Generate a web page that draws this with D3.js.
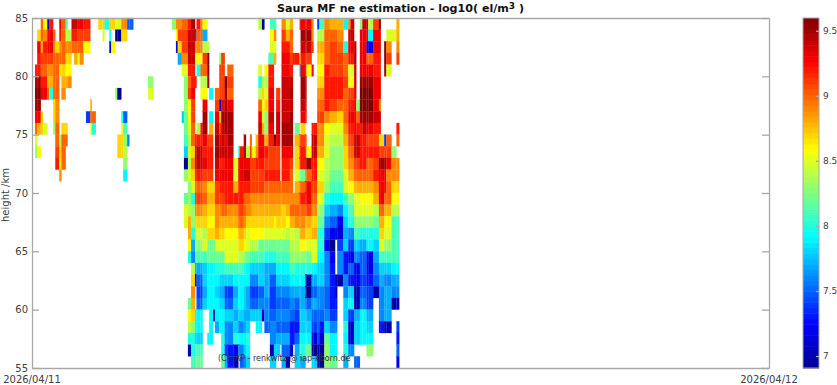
<!DOCTYPE html>
<html>
<head>
    <script src="https://d3js.org/d3.v7.min.js"></script>
    <style>
        body { margin: 0; background-color: white; }
        text { font-family: "DejaVu Sans", sans-serif; fill: #404040; }
        .axis path, .axis line { stroke: #a8a8a8; stroke-width: 1.3; fill: none; }
        .axis text { font-size: 10px; }
        .cbar text { font-size: 9px; }
        .cells { filter: blur(0.4px); }
    </style>
</head>
<body>
    <svg id="chart" width="837" height="385"></svg>
    <script>
        const _ = null
        const yTicks = [55, 60, 65, 70, 75, 80, 85]
        const cbarTicks = [7, 7.5, 8, 8.5, 9, 9.5]
        const xLabels = ['2026/04/11', '2026/04/12']
        const rowTops = d3.range(85, 55, -1)

        // time edges in hours, values are log10(ne) * 10, rows run from 85 km down
        const leftEdges = [0.10,0.17,0.29,0.36,0.50,0.56,0.69,0.76,0.89,0.96,1.10,1.16,1.29,1.37,1.49,1.56,1.68,1.76,1.90,1.95,2.08,2.16,2.30,2.36,2.52,2.58,2.71,2.78,2.91,2.97,3.10,3.17,3.30,3.78,3.95]
        const leftRows = [
            [_,_,90,86,72,92,_,_,93,90,81,_,94,94,93,93,92,92,_,_,_,87,87,80,87,87,85,85,89,89,75,75,_,_],
            [_,87,90,89,93,93,90,_,92,90,84,84,92,92,91,91,91,91,_,_,_,_,85,_,80,_,69,69,87,87],
            [_,93,88,92,93,93,89,87,89,90,89,89,90,90,90,90,86,86,_,_,_,_,_,_,71,86],
            [_,92,91,91,91,91,90,90,90,90,87,87,_,88,85,89],
            [92,92,90,90,89,89,90,90,87,87,86,86],
            [95,95,92,92,88,88,90,90,_,88,88,89,_,_,_,_,_,_,_,_,_,_,_,_,_,_,_,_,_,_,_,_,_,83],
            [96,96,93,93,90,80,90,90,_,89,_,_,_,_,_,_,_,_,_,_,_,_,_,_,_,_,83,69,_,_,_,_,_,85],
            [95,95,_,_,_,_,87,89,_,_,_,_,_,_,_,_,_,_,88],
            [93,93,87,_,_,_,87,89,_,_,_,_,_,_,_,_,_,74,90,90,_,_,_,_,_,_,_,_,80,75],
            [90,88,87,85,_,_,83,90,_,87,87,_,_,_,_,_,_,_,86,80,_,_,_,_,_,_,_,_,86,81],
            [85,_,_,_,_,_,_,90,83,90,90,_,_,_,_,_,_,_,_,_,_,_,_,_,_,_,_,87,87,83,76],
            [83,86,_,_,_,_,_,91,87,90,_,_,_,_,_,_,_,_,_,_,_,_,_,_,_,_,_,87,87,84],
            [_,_,_,_,_,_,_,92,86,90,_,_,_,_,_,_,_,_,_,_,_,_,_,_,_,_,_,_,_,83],
            [_,_,_,_,_,_,_,_,89,_,_,_,_,_,_,_,_,_,_,_,_,_,_,_,_,_,_,_,_,79]
        ]

        const midEdges = [4.56,4.69,4.75,4.88,4.95,5.08,5.18,5.31,5.36,5.49,5.56,5.71,5.77,5.90,5.96,6.10,6.16,6.28,6.36,6.56,6.72,6.77,6.90,6.97,7.10,7.16,7.29,7.37,7.49,7.57,7.70,7.75,7.88,7.95,8.08,8.13,8.27,8.40]
        const midRows = [
            [83,89,89,90,90,92,95,_,92,89,86,_,_,_,_,_,_,_,_,_,_,_,_,_,_,_,_,84,69,_,_,81,81,_,_,89,85],
            [_,86,91,91,91,94,94,74,90,90,77,_,_,_,_,_,_,_,_,_,_,_,_,_,_,_,_,_,_,_,_,86,89,_,_,91,88],
            [_,71,87,91,91,94,94,89,89,89,84,84,_,_,_,_,_,_,_,_,_,_,_,_,_,_,_,_,_,_,_,85,85,_,_,92,92],
            [_,_,77,89,89,94,94,86,86,86,91,96,_,_,_,83,91,_,_,_,_,_,_,_,_,_,_,_,_,_,81,81,88,_,_,93,93],
            [_,_,_,85,85,92,92,_,80,90,90,96,_,_,_,91,91,_,90,_,_,_,_,_,_,_,_,85,_,86,92,92,_,_,_,93,93],
            [_,_,_,_,83,90,92,92,_,84,84,95,_,_,_,91,91,96,91,_,_,_,_,_,_,_,_,80,84,84,92,92,_,_,_,94,94],
            [_,_,_,_,83,91,93,_,_,86,86,_,79,_,90,91,91,95,90,_,_,_,_,_,_,_,_,84,87,85,93,93,_,91,_,94,94],
            [_,_,_,_,83,86,91,_,_,_,93,_,_,_,91,71,93,95,93,_,_,_,_,_,_,_,_,90,86,87,93,93,_,92,_,94,94],
            [_,_,_,78,82,86,91,_,_,_,95,_,79,_,93,87,95,95,95,_,_,_,_,_,_,_,_,93,85,83,94,94,_,94,_,94,94],
            [_,_,_,_,82,85,90,_,84,92,95,_,88,_,94,91,94,95,95,_,_,_,_,_,_,_,_,94,88,83,93,93,_,94,_,95,95],
            [_,_,_,_,81,84,90,92,92,92,93,91,91,_,95,93,94,93,95,_,_,_,95,_,90,_,88,93,93,88,92,92,96,93,_,95,95],
            [_,_,_,_,78,85,87,94,94,94,92,92,92,_,95,94,94,94,94,_,80,92,95,84,91,86,89,93,93,92,91,91,91,91,_,93,93],
            [_,_,_,_,69,84,89,94,94,94,93,92,92,_,94,92,92,93,93,85,93,93,93,93,91,91,92,92,92,91,91,91,91,91,_,92,92],
            [_,_,_,_,83,85,87,92,92,92,91,91,91,_,93,93,93,93,93,85,93,93,94,94,91,91,91,91,91,92,92,92,92,92,_,92,92],
            [_,_,_,_,_,83,85,90,90,90,89,87,87,87,91,92,92,92,92,88,92,92,92,92,91,91,91,91,91,90,90,90,90,90,90,90,90],
            [_,_,_,_,82,83,80,91,91,91,90,88,88,88,91,91,91,92,92,92,92,92,90,90,89,89,89,89,89,89,89,89,89,89,89,89,89],
            [_,_,_,_,85,84,83,89,89,89,88,87,87,87,89,89,90,90,89,89,91,91,90,89,89,88,88,88,88,88,88,88,88,88,88,87,88],
            [_,_,_,_,85,88,83,87,87,87,87,86,86,86,89,88,88,88,88,88,90,90,89,87,87,87,87,87,87,87,87,87,86,87,87,87,86],
            [_,_,_,_,_,88,80,85,85,85,84,87,87,87,88,87,87,86,86,86,88,88,87,85,86,86,86,86,86,85,85,85,85,85,85,85,84],
            [_,_,_,_,_,86,77,83,83,83,85,82,82,82,85,85,85,85,85,85,87,87,86,85,84,84,84,82,82,82,82,82,82,82,82,82,82],
            [_,_,_,_,_,80,76,81,81,81,81,82,82,82,82,82,82,85,85,85,84,84,83,82,81,81,81,81,81,80,80,80,80,81,81,81,81],
            [_,_,_,_,_,_,84,77,77,77,78,79,79,79,80,80,80,81,81,81,81,81,80,79,78,78,78,78,78,77,77,77,77,79,79,79,79],
            [_,_,_,_,_,_,87,69,75,75,78,79,79,79,79,78,78,78,78,79,79,79,79,79,76,76,76,78,78,77,77,75,75,78,78,78,78],
            [_,_,_,_,_,_,89,_,74,74,77,79,79,79,78,77,77,74,74,77,79,79,78,77,74,74,74,75,75,77,77,74,74,76,76,76,76],
            [_,_,_,_,_,82,88,_,75,75,78,79,79,79,79,78,78,75,75,78,79,79,78,77,75,75,75,76,76,76,76,74,74,75,75,75,75],
            [_,_,_,_,_,86,87,79,79,79,_,_,79,70,79,79,79,78,78,77,78,78,77,77,78,78,78,78,71,76,76,75,75,76,76,76,76],
            [_,_,_,_,_,84,83,79,79,79,_,_,79,_,77,79,79,76,76,78,76,76,77,78,_,_,79,79,_,75,75,76,76,75,75,75,75],
            [_,_,_,_,_,80,80,78,78,78,_,79,79,_,_,_,80,76,76,80,79,79,79,80,_,_,_,_,_,_,_,76,76,77,77,77,77],
            [_,_,_,_,_,70,80,81,81,81,_,_,_,_,_,_,80,74,73,72,76,76,78,79,_,_,_,_,_,_,_,70,78,78,_,75,75],
            [_,_,_,_,_,_,81,82,82,82,_,_,_,_,_,_,82,77,73,70,_,75,76,78,_,_,_,_,_,_,_,78,78,_,_,77,70]
        ]

        const rightEdges = [8.40,8.50,8.56,8.72,8.75,8.91,8.94,9.11,9.17,9.29,9.36,9.52,9.70,9.87,9.94,10.14,10.30,10.38,10.49,10.56,10.68,10.76,10.90,10.95,11.11,11.30,11.36,11.47,11.54,11.71,11.87,11.96]
        const rightRows = [
            [88,_,_,93,93,93,93,89,_,74,81,89,88,88,88,79,89,94,_,_,83,94,94,84,91,96,_,_,_,_,88],
            [90,_,_,_,95,95,95,89,_,84,84,90,90,90,89,_,94,94,_,_,93,93,93,79,93,93,_,_,85,85,88],
            [90,_,_,_,94,94,94,91,_,88,88,90,91,91,90,80,93,93,94,_,93,93,72,72,93,93,_,96,89,_,89],
            [91,92,92,85,92,92,91,_,_,87,87,90,91,91,91,90,92,92,95,_,93,93,90,90,92,92,_,96,91,_,91],
            [92,_,_,76,93,93,86,93,_,86,86,92,91,91,91,90,85,85,94,_,93,93,93,93,92,92,_,95,85],
            [94,_,_,_,95,95,_,_,_,87,87,92,92,92,92,91,86,86,94,_,95,95,95,95,93,93],
            [95,_,_,_,95,95,_,_,_,89,89,92,92,92,92,90,91,91,93,_,96,96,96,96,93,93],
            [94,_,_,_,94,94,_,_,_,90,90,92,91,91,90,90,92,92,93,83,96,96,96,96,93,89],
            [95,_,_,_,93,93,_,_,_,91,91,89,88,88,87,90,93,93,93,90,95,95,95,95,94,94],
            [95,_,82,_,87,_,_,92,92,89,89,86,85,85,85,89,92,92,93,92,92,94,93,93,92,92,_,_,_,_,92],
            [95,_,88,91,91,91,_,94,94,89,89,85,84,84,84,88,91,91,94,94,92,92,91,91,91,87,87,74,90,_,90],
            [93,_,87,92,92,92,86,94,94,88,88,85,83,83,83,87,90,90,94,94,92,92,92,92,92,91,91,91,91,83],
            [91,_,87,92,92,95,95,92,92,86,86,84,83,83,83,87,89,89,91,91,92,92,90,90,91,95,95,95,93,89,89],
            [90,_,85,82,82,90,90,92,92,85,85,84,82,82,82,85,88,88,90,90,90,90,90,90,92,93,93,93,89,89,89],
            [90,_,88,90,90,93,93,91,91,87,87,83,81,81,81,85,86,86,88,88,88,88,88,88,89,93,93,93,90,87,87],
            [89,89,89,92,92,93,93,90,90,85,85,80,79,79,79,81,83,83,85,85,86,86,86,86,88,93,93,90,90,86,86],
            [90,90,90,90,90,91,91,89,89,83,83,78,77,77,76,79,81,81,85,85,85,85,85,85,84,90,90,88,88,84,84],
            [88,88,89,89,89,88,88,87,87,82,82,76,75,75,72,78,80,80,83,83,83,83,83,83,82,88,88,86,86,81,81],
            [85,85,84,88,88,87,87,88,88,80,80,74,72,72,71,77,76,76,81,81,80,80,80,80,80,87,87,85,85,81,81],
            [84,84,84,86,86,85,85,85,85,80,80,72,69,_,74,78,74,74,78,78,77,77,79,79,78,85,85,83,83,81,81],
            [83,83,83,83,83,82,82,85,85,79,79,76,72,_,76,73,72,72,76,76,75,75,72,72,77,81,81,81,81,81,81],
            [81,81,80,80,80,80,80,79,79,78,78,76,73,_,76,73,75,75,72,72,75,75,72,72,76,78,78,78,78,79,79],
            [79,79,79,79,79,70,70,77,77,78,78,76,73,70,70,76,73,73,72,72,74,74,73,73,75,77,77,76,76,77,77],
            [77,77,77,77,77,69,69,75,75,76,76,75,73,70,_,76,78,78,70,70,75,75,74,74,70,76,76,77,77,76,76],
            [76,76,75,77,77,75,75,77,77,76,76,75,73,73,_,78,79,79,70,70,76,76,74,74,_,76,76,77,77,70,70],
            [75,75,74,78,78,77,77,75,75,75,75,76,74,74,_,78,74,74,77,77,79,79,77,77,_,76,76,77,77,_,_],
            [73,73,73,78,78,78,78,74,74,75,73,78,76,76,_,80,71,71,78,78,79,79,78,78,_,73,73,70,70,_,74],
            [73,73,75,79,79,79,79,71,71,74,71,82,79,79,_,79,71,71,78,78,79,79,79,79,_,_,_,_,_,_,73],
            [71,_,77,80,80,82,82,69,69,71,69,83,79,79,_,80,76,76,_,_,_,_,83,83,_,_,_,_,_,_,75],
            [_,_,78,77,77,_,_,78,78,69,69,83,82,82,_,77,_,_,75,75,_,_,_,_,_,_,_,_,_,_,72]
        ]

        const blocks = [[leftEdges, leftRows], [midEdges, midRows], [rightEdges, rightRows]]

        const svg = d3.select('#chart')
        const margin = { left: 32, right: 769, top: 18, bottom: 368 }

        const x = d3.scaleLinear().domain([0, 24]).range([margin.left, margin.right])
        const y = d3.scaleLinear().domain([55, 85]).range([margin.bottom, margin.top])
        const colorDomain = [6.908, 9.598]
        const cbarY = d3.scaleLinear().domain(colorDomain).range([margin.bottom, margin.top])

        // matlab jet
        const jet = d3.scaleLinear()
            .domain([0, 0.11, 0.125, 0.375, 0.625, 0.875, 1].map(t => colorDomain[0] + t * (colorDomain[1] - colorDomain[0])))
            .range(['#00008f', '#0000f0', '#0000ff', '#00ffff', '#ffff00', '#ff0000', '#800000'])
            .clamp(true)

        const cells = blocks.flatMap(([edges, rows]) =>
            rows.flatMap((row, r) => Array.from(row).flatMap((v, c) =>
                v === null || v === undefined ? [] : [{ t0: edges[c], t1: edges[c + 1], top: rowTops[r], ne: v / 10 }])))

        svg.append('g')
            .attr('class', 'cells')
            .selectAll('rect')
            .data(cells)
            .enter()
            .append('rect')
            .attr('x', d => x(d.t0))
            .attr('y', d => y(d.top))
            .attr('width', d => x(d.t1) - x(d.t0))
            .attr('height', d => y(d.top - 1) - y(d.top))
            .attr('fill', d => jet(d.ne))
            .attr('stroke', d => jet(d.ne))
            .attr('stroke-width', 0.2)

        // frame with ticks pointing inward
        svg.append('g')
            .attr('class', 'axis')
            .attr('transform', `translate(${margin.left}, 0)`)
            .call(d3.axisLeft(y).tickValues(yTicks).tickSize(-7).tickSizeOuter(0).tickPadding(4))
        svg.append('g')
            .attr('class', 'axis')
            .attr('transform', `translate(${margin.right}, 0)`)
            .call(d3.axisRight(y).tickValues(yTicks).tickSize(-7).tickSizeOuter(0).tickFormat(''))
        svg.append('g')
            .attr('class', 'axis')
            .attr('transform', `translate(0, ${margin.top})`)
            .call(d3.axisTop(x).tickValues([]).tickSizeOuter(0))
        svg.append('g')
            .attr('class', 'axis')
            .attr('transform', `translate(0, ${margin.bottom})`)
            .call(d3.axisBottom(x).tickValues([]).tickSizeOuter(0))

        svg.selectAll('.axis .tick text').style('fill', '#404040')

        svg.selectAll('.xlabel')
            .data(xLabels)
            .enter()
            .append('text')
            .attr('class', 'xlabel')
            .attr('x', (d, i) => x(i * 24))
            .attr('y', 383)
            .attr('text-anchor', 'middle')
            .attr('font-size', 10)
            .text(d => d)

        const title = svg.append('text')
            .attr('x', 400.5)
            .attr('y', 12)
            .attr('text-anchor', 'middle')
            .attr('font-size', 11.1)
            .attr('font-weight', 'bold')
            .style('fill', '#111')
        title.append('tspan').text('Saura MF ne estimation - log10( el/m')
        title.append('tspan').attr('dy', -3).attr('font-size', 9).text('3')
        title.append('tspan').attr('dy', 3).text(' )')

        svg.append('text')
            .attr('transform', 'translate(9, 195) rotate(-90)')
            .attr('text-anchor', 'middle')
            .attr('font-size', 10)
            .text('height /km')

        svg.append('text')
            .attr('x', 218)
            .attr('y', 361)
            .attr('font-size', 8)
            .style('fill', '#333')
            .text('(C) IAP - renkwitz @ iap-kborn.de')

        // colorbar
        const cbarLeft = 803, cbarRight = 819
        const cbarStep = (colorDomain[1] - colorDomain[0]) / 64
        const cbarSteps = d3.range(64).map(i => colorDomain[0] + i * cbarStep)
        svg.append('g')
            .selectAll('rect')
            .data(cbarSteps)
            .enter()
            .append('rect')
            .attr('x', cbarLeft)
            .attr('width', cbarRight - cbarLeft)
            .attr('y', d => cbarY(d + cbarStep))
            .attr('height', d => cbarY(d) - cbarY(d + cbarStep) + 0.5)
            .attr('fill', d => jet(d + cbarStep / 2))

        svg.append('rect')
            .attr('x', cbarLeft)
            .attr('y', margin.top)
            .attr('width', cbarRight - cbarLeft)
            .attr('height', margin.bottom - margin.top)
            .attr('fill', 'none')
            .attr('stroke', '#a8a8a8')

        svg.append('g')
            .attr('class', 'axis cbar')
            .attr('transform', `translate(${cbarRight}, 0)`)
            .call(d3.axisRight(cbarY).tickValues(cbarTicks).tickSize(-3).tickSizeOuter(0).tickPadding(4).tickFormat(d3.format('')))
            .select('.domain').remove()
    </script>
</body>
</html>
